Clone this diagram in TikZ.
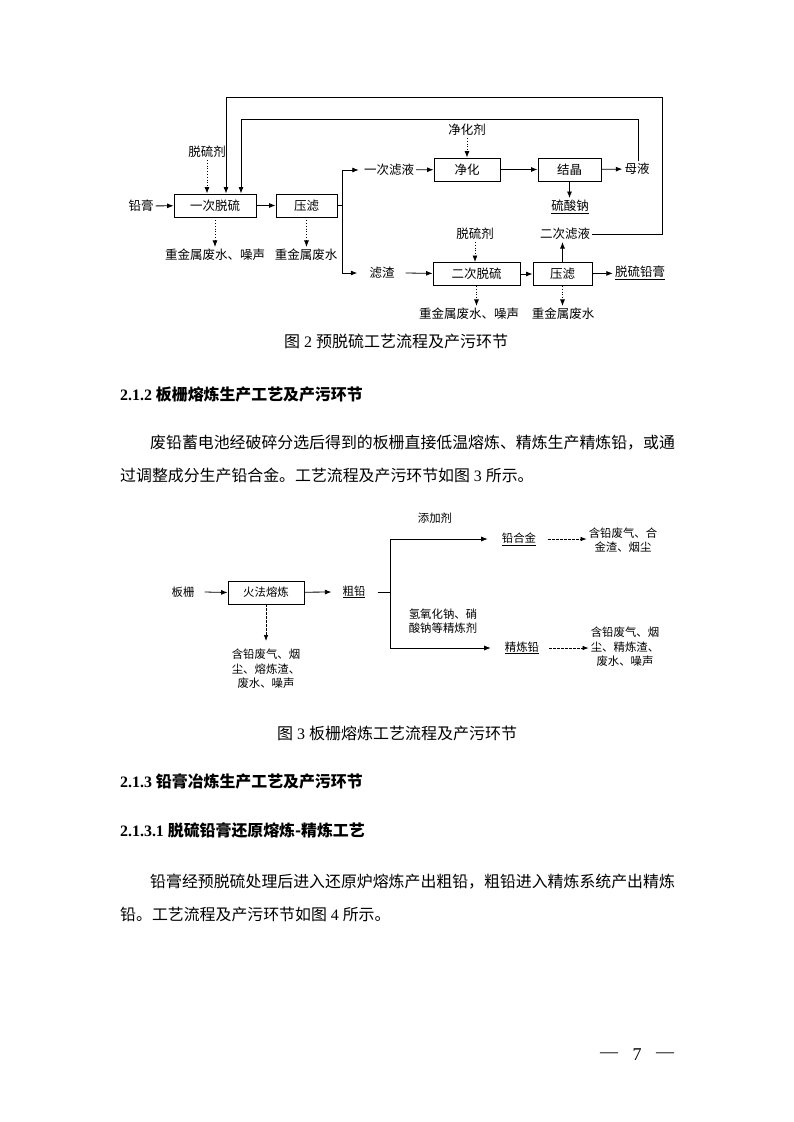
\documentclass[tikz,border=0pt]{standalone}
\usepackage{fontspec}
\setmainfont{Liberation Serif}
\newfontfamily\cjk{Noto Sans CJK SC}
\usetikzlibrary{arrows.meta}
\newcommand\zh[1]{{\cjk #1}}
\newcommand\fa{\cjk\fontsize{12.5}{14}\selectfont}
\newcommand\fb{\cjk\fontsize{11.4}{14.5}\selectfont}
\newcommand\fp{\fontsize{15.9}{18}\selectfont}
\begin{document}
\begin{tikzpicture}[x=1pt,y=-1pt,
  every node/.style={inner sep=0pt},
  box/.style={draw, line width=0.9pt, minimum height=23pt, inner sep=0pt, font=\fa},
  boxb/.style={draw, line width=0.9pt, minimum height=23pt, inner sep=0pt, font=\fb},
  lbl/.style={font=\fa, inner sep=2pt},
  lblb/.style={font=\fb, inner sep=2pt},
  conn/.style={line width=0.8pt},
  arr/.style={conn, -{Latex[length=6.5pt,width=5pt]}},
  dotarr/.style={conn, dotted, -{Latex[length=6.5pt,width=5pt]}},
  dasharr/.style={line width=0.7pt, dash pattern=on 2.5pt off 1.5pt, -{Latex[length=6pt,width=4.5pt]}},
  ptext/.style={font=\fp, anchor=west}
]
\path[fill=white, use as bounding box] (0,0) rectangle (793,1122);

% ---------------- Figure 2 ----------------
\node[box, minimum width=82pt] (b1) at (215,205.5) {一次脱硫};
\node[box, minimum width=61pt] (b2) at (306.5,205.5) {压滤};
\node[box, minimum width=66pt] (b3) at (467,169.5) {净化};
\node[box, minimum width=63pt] (b4) at (569.5,169.5) {结晶};
\node[box, minimum width=87pt] (b5) at (476.5,274) {二次脱硫};
\node[box, minimum width=59pt] (b6) at (562.5,274) {压滤};

\node[lbl] (qg) at (141,206) {铅膏};
\node[lbl] (tl1) at (207,152) {脱硫剂};
\node[lbl] (w1) at (215,255) {重金属废水、噪声};
\node[lbl] (w2) at (306,255) {重金属废水};
\node[lbl] (yc) at (389,170) {一次滤液};
\node[lbl] (jhj) at (467,130) {净化剂};
\node[lbl] (my) at (637,169) {母液};
\node[lbl] (lsn) at (570,207) {\underline{硫酸钠}};
\node[lbl] (ec) at (565,234) {二次滤液};
\node[lbl] (tl2) at (475,234) {脱硫剂};
\node[lbl] (lz) at (382,273) {滤渣};
\node[lbl] (tlqg) at (640,273) {\underline{脱硫铅膏}};
\node[lbl] (w3) at (469,314) {重金属废水、噪声};
\node[lbl] (w4) at (563,314) {重金属废水};

\draw[arr] (qg) -- (b1);
\draw[dotarr] (tl1) -- (tl1 |- b1.north);
\draw[dotarr] (b1.south) -- (b1.south |- w1.north);
\draw[dotarr] (b2.south) -- (b2.south |- w2.north);
\draw[arr] (b1) -- (b2);
\coordinate (br1) at (342,205.5);
\draw[conn] (b2.east) -- (br1);
\draw[arr] (br1) |- ([xshift=-3pt]yc.west);
\draw[arr] (br1) |- ([xshift=-10pt]lz.west);
\draw[arr] (yc) -- (b3);
\draw[dotarr] (jhj) -- (b3);
\draw[arr] (b3) -- (b4);
\draw[arr] (b4) -- (my);
\draw[arr] (b4.south) -- (b4.south |- lsn.north);
\draw[dotarr] (tl2) -- (tl2 |- b5.north);
\draw[arr] ([xshift=9pt]lz.east) -- (b5);
\draw[arr] (b5) -- (b6);
\draw[arr] (b6.north) -- (b6.north |- ec.south);
\draw[arr] (b6) -- (tlqg);
\draw[dotarr] (b5.south) -- (b5.south |- w3.north);
\draw[dotarr] (b6.south) -- (b6.south |- w4.north);
\coordinate (oc) at (662,97);
\draw[arr] (ec.east) -| (oc) -| ([xshift=11pt]b1.north);
\coordinate (ic) at (638,119);
\draw[arr] (my.north -| ic) -- (ic) -| ([xshift=26pt]b1.north);

\node[font=\fontsize{16}{18}\selectfont] (cap2) at (396,341) {\zh{图} 2 \zh{预脱硫工艺流程及产污环节}};

% ---------------- Text ----------------
\node[ptext, font=\fp\bfseries] (h1) at (120,394) {2.1.2 \zh{板栅熔炼生产工艺及产污环节}};
\node[ptext] (p1) at (150,443) {\zh{废铅蓄电池经破碎分选后得到的板栅直接低温熔炼、精炼生产精炼铅，或通}};
\node[ptext] (p2) at (120,475) {\zh{过调整成分生产铅合金。工艺流程及产污环节如图} 3 \zh{所示。}};

% ---------------- Figure 3 ----------------
\node[lblb] (bz) at (183,592) {板栅};
\node[boxb, minimum width=76pt] (hf) at (266,592.5) {火法熔炼};
\node[lblb] (cq) at (354,592) {\underline{粗铅}};
\node[lblb] (tjj) at (435,518) {添加剂};
\node[lblb] (hj) at (519,539) {\underline{铅合金}};
\node[lblb, align=center] (pa) at (623,540) {含铅废气、合\\金渣、烟尘};
\node[lblb, align=center] (jlj) at (443,621) {氢氧化钠、硝\\酸钠等精炼剂};
\node[lblb] (jlq) at (522,648) {\underline{精炼铅}};
\node[lblb, align=center] (pb) at (625,647) {含铅废气、烟\\尘、精炼渣、\\废水、噪声};
\node[lblb, align=center] (pc) at (266,669) {含铅废气、烟\\尘、熔炼渣、\\废水、噪声};

\draw[arr] ([xshift=8pt]bz.east) -- (hf.west);
\draw[arr] (hf) -- ([xshift=-9pt]cq.west);
\coordinate (br2) at (390,592);
\draw[conn] ([xshift=10pt]cq.east) -- (br2);
\draw[arr] (br2) |- ([xshift=-12pt]hj.west);
\draw[arr] (br2) |- ([xshift=-12pt]jlq.west);
\draw[dasharr] ([xshift=10pt]hj.east) -- (pa.west |- hj);
\draw[dasharr] ([xshift=8pt]jlq.east) -- (pb.west |- jlq);
\draw[dasharr] (hf.south) -- ([yshift=6pt]hf.south |- pc.north);

\node[font=\fontsize{16}{18}\selectfont] (cap3) at (397,733) {\zh{图} 3 \zh{板栅熔炼工艺流程及产污环节}};

% ---------------- Text ----------------
\node[ptext, font=\fp\bfseries] (h2) at (120,781) {2.1.3 \zh{铅膏冶炼生产工艺及产污环节}};
\node[ptext, font=\fp\bfseries] (h3) at (120,830) {2.1.3.1 \zh{脱硫铅膏还原熔炼-精炼工艺}};
\node[ptext] (p3) at (150,882) {\zh{铅膏经预脱硫处理后进入还原炉熔炼产出粗铅，粗铅进入精炼系统产出精炼}};
\node[ptext] (p4) at (120,914) {\zh{铅。工艺流程及产污环节如图} 4 \zh{所示。}};

\node[font=\fontsize{18}{20}\selectfont] (d1) at (609,1055) {—};
\node[font=\fontsize{18}{20}\selectfont] (pg) at (637,1055) {7};
\node[font=\fontsize{18}{20}\selectfont] (d2) at (665,1055) {—};
\end{tikzpicture}
\end{document}
